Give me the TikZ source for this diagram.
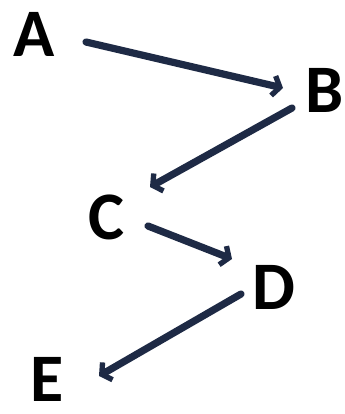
\documentclass[tikz,border=0pt]{standalone}
\usepackage{fontspec}
\setmainfont{Carlito}
\usetikzlibrary{arrows.meta}
\definecolor{arrowblue}{HTML}{1E2A45}
\tikzset{
  letter/.style={inner sep=0pt, font=\fontsize{51}{51}\selectfont\bfseries, text=black},
  link/.style={draw=arrowblue, line width=5.4pt, line cap=round,
    -{Straight Barb[length=5pt, width=15pt, line width=4pt]}}
}
\begin{document}
\begin{tikzpicture}[x=0.75pt, y=-0.75pt]
\useasboundingbox[fill=white] (0,0) rectangle (344,414);
\node[letter] (A) at (34,34) {A};
\node[letter] (B) at (325,90) {B};
\node[letter] (C) at (106,217) {C};
\node[letter] (D) at (274,287) {D};
\node[letter] (E) at (47,379) {E};
\coordinate (a1) at (86,42);
\coordinate (b0) at (283,88);
\coordinate (b1) at (292,108);
\coordinate (c0) at (150,187);
\coordinate (c1) at (148,226);
\coordinate (d0) at (232,259);
\coordinate (d1) at (241,294);
\coordinate (e0) at (99,376);
\draw[link] (a1) -- (b0);
\draw[link] (b1) -- (c0);
\draw[link] (c1) -- (d0);
\draw[link] (d1) -- (e0);
\end{tikzpicture}
\end{document}
